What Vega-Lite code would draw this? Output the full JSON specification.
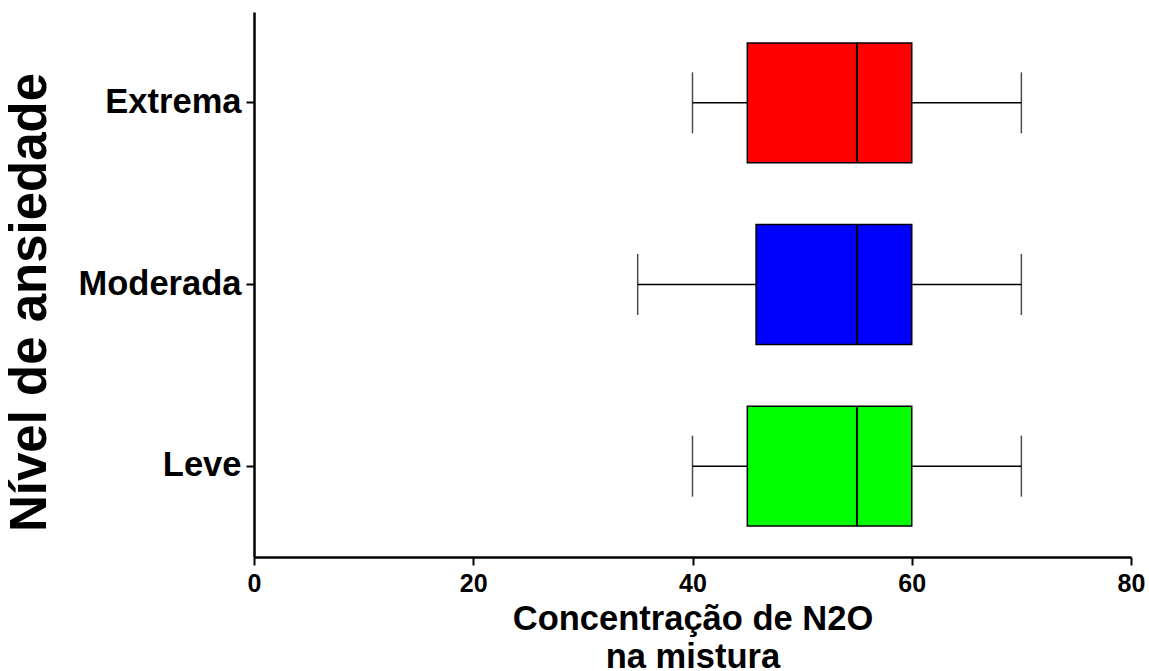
{
  "$schema": "https://vega.github.io/schema/vega-lite/v6.json",
  "width": 877,
  "height": 545,
  "autosize": "none",
  "padding": {"left": 254, "top": 12, "right": 18, "bottom": 114},
  "background": "white",
  "config": {"view": {"stroke": null}, "font": "Liberation Sans"},
  "data": {
    "values": [
      {"nivel": "Extrema", "min": 40, "q1": 45, "median": 55, "q3": 60, "max": 70, "cor": "Extrema"},
      {"nivel": "Moderada", "min": 35, "q1": 45.8, "median": 55, "q3": 60, "max": 70, "cor": "Moderada"},
      {"nivel": "Leve", "min": 40, "q1": 45, "median": 55, "q3": 60, "max": 70, "cor": "Leve"}
    ]
  },
  "encoding": {
    "y": {
      "field": "nivel",
      "type": "nominal",
      "sort": ["Extrema", "Moderada", "Leve"],
      "scale": {"paddingInner": 0.34, "paddingOuter": 0.17},
      "axis": {
        "title": "Nível de ansiedade",
        "titleFontSize": 51,
        "titleFontWeight": "bold",
        "titleColor": "black",
        "titleAngle": -90,
        "titleAlign": "center",
        "titleBaseline": "middle",
        "titleX": -224,
        "titleY": 290,
        "labelFontSize": 34.5,
        "labelFontWeight": "bold",
        "labelColor": "black",
        "labelPadding": 5,
        "tickSize": 8,
        "tickWidth": 2,
        "tickColor": "black",
        "domainColor": "black",
        "domainWidth": 2.5,
        "grid": false
      }
    }
  },
  "layer": [
    {
      "mark": {"type": "rule", "color": "black", "strokeWidth": 1.5},
      "encoding": {
        "x": {
          "field": "min",
          "type": "quantitative",
          "scale": {"domain": [0, 80], "nice": false, "zero": false},
          "axis": {
            "values": [0, 20, 40, 60, 80],
            "title": ["Concentração de N2O", "na mistura"],
            "titleFontSize": 34.5,
            "titleFontWeight": "bold",
            "titleColor": "black",
            "titleLineHeight": 38,
            "titleBaseline": "top",
            "titleAlign": "center",
            "titleX": 438.5,
            "titleY": 45,
            "labelFontSize": 25,
            "labelFontWeight": "bold",
            "labelColor": "black",
            "labelPadding": 6,
            "labelFlush": false,
            "labelOverlap": false,
            "tickSize": 8,
            "tickWidth": 2,
            "tickColor": "black",
            "domainColor": "black",
            "domainWidth": 2.5,
            "grid": false
          }
        },
        "x2": {"field": "max"}
      }
    },
    {
      "mark": {"type": "tick", "color": "black", "size": 61, "thickness": 1.5},
      "encoding": {
        "x": {"field": "min", "type": "quantitative"}
      }
    },
    {
      "mark": {"type": "tick", "color": "black", "size": 61, "thickness": 1.5},
      "encoding": {
        "x": {"field": "max", "type": "quantitative"}
      }
    },
    {
      "mark": {"type": "bar", "stroke": "black", "strokeWidth": 1.5},
      "encoding": {
        "x": {"field": "q1", "type": "quantitative"},
        "x2": {"field": "q3"},
        "color": {
          "field": "cor",
          "type": "nominal",
          "scale": {"domain": ["Extrema", "Moderada", "Leve"], "range": ["#FF0000", "#0000FF", "#00FF00"]},
          "legend": null
        }
      }
    },
    {
      "mark": {"type": "tick", "color": "black", "size": 120, "thickness": 2, "opacity": 1},
      "encoding": {
        "x": {"field": "median", "type": "quantitative"}
      }
    }
  ]
}
